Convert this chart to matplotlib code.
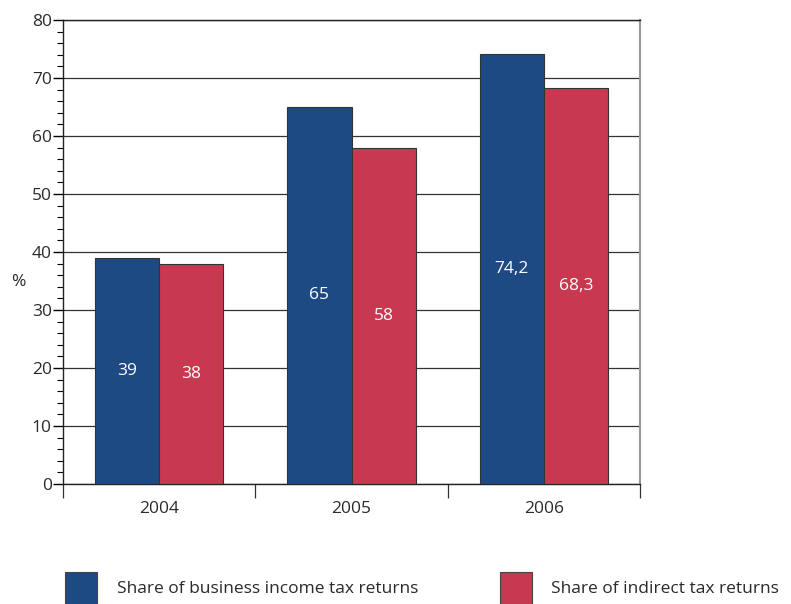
import matplotlib
matplotlib.use("Agg")
import matplotlib.pyplot as plt
import numpy as np
from matplotlib.patches import Rectangle

years = ["2004", "2005", "2006"]
business = [39, 65, 74.2]
indirect = [38, 58, 68.3]
business_lbl = ["39", "65", "74,2"]
indirect_lbl = ["38", "58", "68,3"]
series_names = ["Share of business income tax returns", "Share of indirect tax returns"]

BLUE = "#1E4A84"
RED = "#C8394F"
TXT = "#2a2a2a"
FS = 12.5

plt.rcParams["font.family"] = ["Open Sans", "DejaVu Sans"]

fig = plt.figure(figsize=(7.91, 6.04), dpi=100)
W, H = 791, 604
ax = fig.add_axes([63 / W, 1 - 484 / H, (640 - 63) / W, (484 - 20) / H])

x = np.arange(len(years))
bw = 1 / 3
ax.bar(x - bw / 2, business, bw, color=BLUE, edgecolor="#333333", lw=0.8, zorder=3)
ax.bar(x + bw / 2, indirect, bw, color=RED, edgecolor="#333333", lw=0.8, zorder=3)

for i in range(len(years)):
    ax.text(x[i] - bw / 2, business[i] / 2, business_lbl[i], ha="center", va="center",
            color="white", fontsize=FS, zorder=4)
    ax.text(x[i] + bw / 2, indirect[i] / 2, indirect_lbl[i], ha="center", va="center",
            color="white", fontsize=FS, zorder=4)

ax.set_xlim(-0.5, 2.5)
ax.set_ylim(0, 80)
ax.set_yticks(range(0, 81, 10))
ax.set_yticks(range(0, 81, 2), minor=True)
ax.yaxis.grid(True, color="#333333", lw=0.9, zorder=1)
ax.tick_params(axis="y", which="major", length=7, width=1, direction="out",
               labelsize=FS, labelcolor=TXT, pad=1)
ax.tick_params(axis="y", which="minor", length=4, width=0.8, direction="out")

# category separators below the axis
ax.set_xticks([-0.5, 0.5, 1.5, 2.5])
ax.set_xticklabels([])
ax.tick_params(axis="x", length=10, width=0.9, direction="out", color="#333333")
for i, yr in enumerate(years):
    ax.text(x[i], -4.3, yr, ha="center", va="center", fontsize=FS, color=TXT)

for s in ["left", "bottom", "top"]:
    ax.spines[s].set_color("#222222")
    ax.spines[s].set_linewidth(1)
ax.spines["right"].set_color("#999999")
ax.spines["right"].set_linewidth(1.5)

fig.text(18 / W, 1 - 282 / H, "%", ha="center", va="center", fontsize=FS, color=TXT)

# legend
for (x0, txt_x, col, name) in [(65, 117, BLUE, series_names[0]), (500, 551, RED, series_names[1])]:
    fig.patches.append(Rectangle((x0 / W, 1 - 604 / H), 32 / W, 32 / H, transform=fig.transFigure,
                                 facecolor=col, edgecolor="#444444", lw=0.8))
    fig.text(txt_x / W, 1 - 589 / H, name, ha="left", va="center", fontsize=FS, color=TXT)

fig.savefig("out.png", dpi=100, facecolor="white")
